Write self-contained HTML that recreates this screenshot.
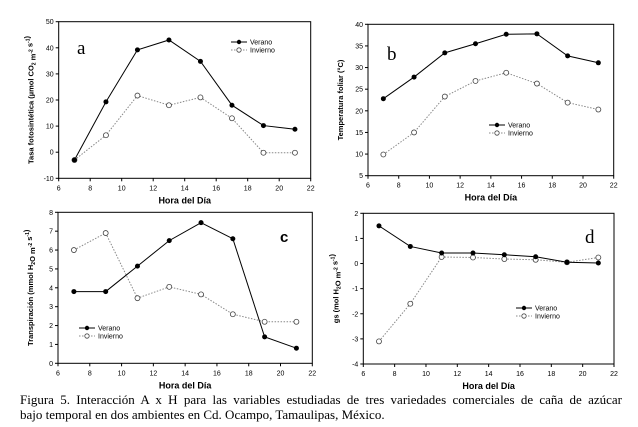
<!DOCTYPE html>
<html><head><meta charset="utf-8"><style>
body{margin:0;background:#fff;width:638px;height:427px;overflow:hidden}
svg{position:absolute;left:0;top:0}
#cap{position:absolute;left:20px;top:392px;width:602px;font-family:"Liberation Serif",serif;font-size:13px;line-height:15px;color:#000}
#cap .l1{text-align:justify;text-align-last:justify;white-space:nowrap}
</style></head><body>
<svg id="s" width="638" height="427"></svg>
<div id="cap"><div class="l1">Figura 5. Interacción A x H para las variables estudiadas de tres variedades comerciales de caña de azúcar</div><div>bajo temporal en dos ambientes en Cd. Ocampo, Tamaulipas, México.</div></div>
<script>
const hours=[7,9,11,13,15,17,19,21];
const aVerano=[-3,19.3,39.2,43,34.8,18,10.2,8.8];
const aInvierno=[-3,6.5,21.7,18,21,13,-0.2,-0.2];
const bVerano=[22.8,27.8,33.4,35.5,37.7,37.8,32.7,31.1];
const bInvierno=[9.9,15,23.3,26.9,28.8,26.3,21.9,20.3];
const cVerano=[3.8,3.8,5.15,6.5,7.45,6.6,1.4,0.8];
const cInvierno=[6,6.9,3.45,4.05,3.65,2.6,2.2,2.2];
const dVerano=[1.5,0.68,0.42,0.42,0.35,0.27,0.05,0.02];
const dInvierno=[-3.1,-1.6,0.26,0.24,0.18,0.15,0.05,0.24];
const xTicks=[6,8,10,12,14,16,18,20,22];
const aTicks=[-10,0,10,20,30,40,50];
const bTicks=[5,10,15,20,25,30,35,40];
const cTicks=[0,1,2,3,4,5,6,7,8];
const dTicks=[-4,-3,-2,-1,0,1,2];
const NS="http://www.w3.org/2000/svg";
const svg=document.getElementById('s');
function el(t,a,p){const e=document.createElementNS(NS,t);for(const k in a)e.setAttribute(k,a[k]);(p||svg).appendChild(e);return e;}
function panel(id,box,ymin,ymax,yt,ver,inv,ytitle,letter,lp,leg){
 const g=el('g',{});
 
 
 const [L,T,R,B]=box;
 const X=v=>L+(v-6)/16*(R-L);
 const Y=v=>B-(v-ymin)/(ymax-ymin)*(B-T);
 const f=el('rect',{x:L,y:T,width:R-L,height:B-T,fill:'none',stroke:'#000','stroke-width':1},g);
 
 
 xTicks.forEach(v=>{el('line',{x1:X(v),x2:X(v),y1:B,y2:B+3,stroke:'#000'},g);
  const t=el('text',{x:X(v),y:B+12,'font-size':7,'text-anchor':'middle','font-family':'Liberation Sans,sans-serif'},g);t.textContent=v;
  });
 yt.forEach(v=>{el('line',{x1:L-3,x2:L,y1:Y(v),y2:Y(v),stroke:'#000'},g);
  const t=el('text',{x:L-5,y:Y(v)+2.5,'font-size':7,'text-anchor':'end','font-family':'Liberation Sans,sans-serif'},g);t.textContent=v;
  });
 const xt=el('text',{x:(L+R)/2,y:B+25,'font-size':9,'font-weight':'bold','text-anchor':'middle','font-family':'Liberation Sans,sans-serif'},g);
 xt.textContent='Hora del Día';
 
 const cy=(T+B)/2,cx=L-25;
 const yl=el('text',{x:cx,y:cy,'font-size':7.5,'font-weight':'bold','text-anchor':'middle','font-family':'Liberation Sans,sans-serif',transform:`rotate(-90 ${cx} ${cy})`},g);
 yl.innerHTML=ytitle;
 
 const lt=el('text',{x:lp[0],y:lp[1],'font-size':lp[2],'font-family':lp[3],'font-weight':lp[4]||'normal'},g);lt.textContent=letter;
 
 const pi=el('polyline',{points:hours.map((h,i)=>X(h)+','+Y(inv[i])).join(' '),fill:'none',stroke:'#888','stroke-dasharray':'1.5,1.5','stroke-width':1},g);
 
 const pv=el('polyline',{points:hours.map((h,i)=>X(h)+','+Y(ver[i])).join(' '),fill:'none',stroke:'#000','stroke-width':1},g);
 
 hours.forEach((h,i)=>{const c=el('circle',{cx:X(h),cy:Y(inv[i]),r:2.5,fill:'#fff',stroke:'#444','stroke-width':0.8},g);
  });
 hours.forEach((h,i)=>{const c=el('circle',{cx:X(h),cy:Y(ver[i]),r:2.5,fill:'#000'},g);
  });
 const [lx,ly]=leg;
 const lg=el('g',{},g);
 el('line',{x1:lx,x2:lx+16,y1:ly,y2:ly,stroke:'#000'},lg);el('circle',{cx:lx+8,cy:ly,r:2.2,fill:'#000'},lg);
 el('line',{x1:lx,x2:lx+16,y1:ly+8,y2:ly+8,stroke:'#888','stroke-dasharray':'1.5,1.5'},lg);el('circle',{cx:lx+8,cy:ly+8,r:2.2,fill:'#fff',stroke:'#444','stroke-width':0.8},lg);
 const t1=el('text',{x:lx+19,y:ly+2.5,'font-size':7,'font-family':'Liberation Sans,sans-serif'},lg);t1.textContent='Verano';
 const t2=el('text',{x:lx+19,y:ly+10.5,'font-size':7,'font-family':'Liberation Sans,sans-serif'},lg);t2.textContent='Invierno';
}
const sub=s=>`<tspan font-size="5" dy="2">${s}</tspan><tspan dy="-2"></tspan>`;
const sup=s=>`<tspan font-size="5" dy="-3">${s}</tspan><tspan dy="3"></tspan>`;
panel('a',[58.7,21.7,310.7,178.3],-10,50,aTicks,aVerano,aInvierno,`Tasa fotosintética (µmol CO${sub(2)} m${sup('-2')} s${sup('-1')})`,'a',[77,54,19,'Liberation Serif,serif'],[231,42]);
panel('b',[368,24.3,613.7,175.7],5,40,bTicks,bVerano,bInvierno,'Temperatura foliar (°C)','b',[387,60,19,'Liberation Serif,serif'],[489,125]);
panel('c',[58,212.3,312.3,363.3],0,8,cTicks,cVerano,cInvierno,`Transpiración (mmol H${sub(2)}O m${sup('-2')} s${sup('-1')})`,'c',[280,242,15,'Liberation Sans,sans-serif','bold'],[79,328]);
panel('d',[363.3,213.3,614,364],-4,2,dTicks,dVerano,dInvierno,`gs (mol H${sub(2)}O m${sup('-2')} s${sup('-1')})`,'d',[585,243,19,'Liberation Serif,serif'],[516,308]);
</script>
</body></html>
